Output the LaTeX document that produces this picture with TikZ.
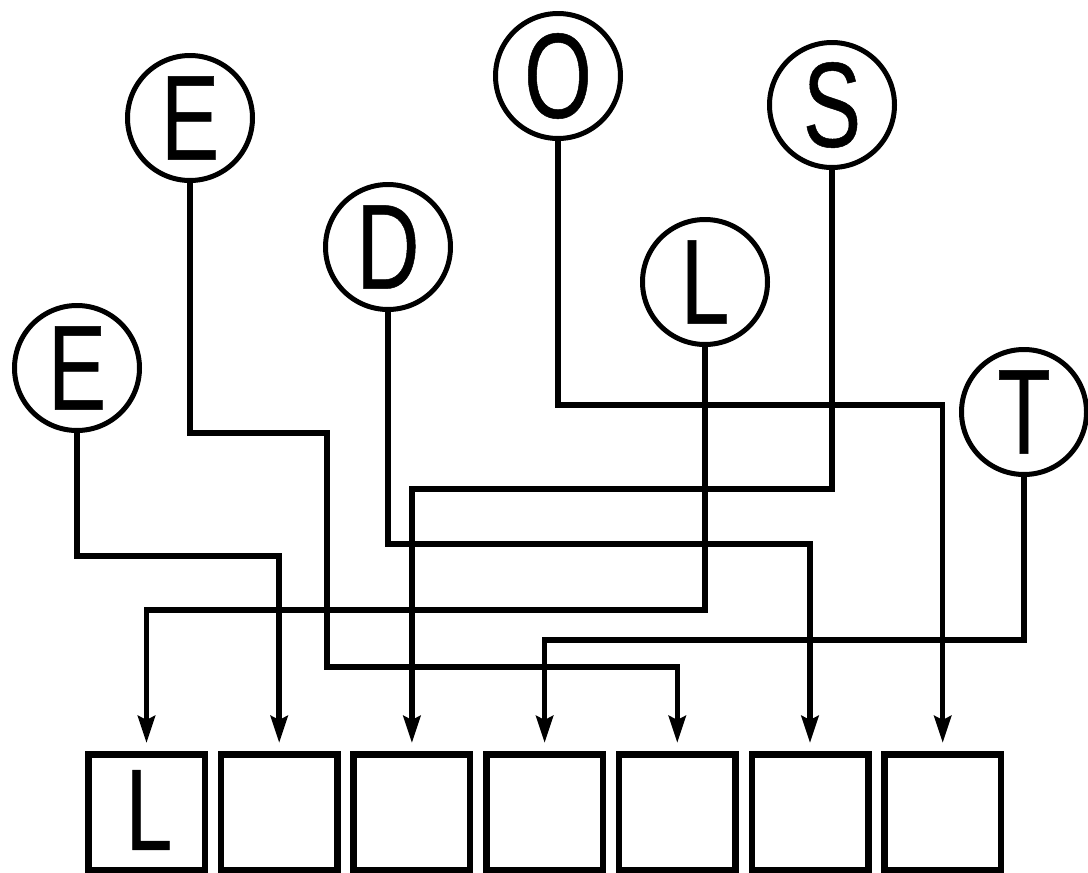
\documentclass[tikz,border=0pt]{standalone}
\usepackage{fontspec}
\newfontfamily\letterfont[FakeStretch=0.72,FakeBold=0.4]{Liberation Sans}
\usetikzlibrary{arrows.meta}
\begin{document}
\begin{tikzpicture}[x=1pt,y=-1pt,
  lettercirc/.style={circle,draw,line width=5pt,minimum size=125pt,inner sep=0pt,outer sep=0pt,
    font=\letterfont\fontsize{121}{121}\selectfont},
  slot/.style={rectangle,draw,line width=6.5pt,minimum width=116.5pt,minimum height=115.5pt,
    inner sep=0pt,outer sep=0pt,font=\letterfont\fontsize{116}{116}\selectfont},
  link/.style={line width=5.5pt,-{Stealth[length=27pt,width=17pt,inset=4pt]},shorten >=11.25pt}]
\useasboundingbox (0,0) rectangle (1088,873);
% letter circles
\node[lettercirc] (e1) at (77,368) {E};
\node[lettercirc] (e2) at (190,118) {E};
\node[lettercirc] (d)  at (388,247) {D};
\node[lettercirc] (o)  at (558,76)  {O};
\node[lettercirc] (l)  at (705,282) {L};
\node[lettercirc] (s)  at (832,105) {S};
\node[lettercirc] (t)  at (1024,412) {T};
% answer slots
\node[slot] (b1) at (146.5,812) {};
\node[slot] (b2) at (279.2,812) {};
\node[slot] (b3) at (411.9,812) {};
\node[slot] (b4) at (544.6,812) {};
\node[slot] (b5) at (677.3,812) {};
\node[slot] (b6) at (810,812) {};
\node[slot] (b7) at (942.7,812) {};
\node[font=\letterfont\fontsize{116}{116}\selectfont,inner sep=0pt] (bl) at (149,810) {L};
% turning points
\coordinate (t1) at (279.2,556);
\coordinate (t2a) at (327,433);
\coordinate (t2b) at (677.3,667);
\coordinate (t3) at (810,544);
\coordinate (t4) at (942.7,405);
\coordinate (t5) at (146.5,610);
\coordinate (t6) at (411.9,489);
\coordinate (t7) at (544.6,640);
% connectors
\draw[link] (e1.south) |- (t1) -- (b2.north);
\draw[link] (e2.south) |- (t2a) |- (t2b) -- (b5.north);
\draw[link] (d.south) |- (t3) -- (b6.north);
\draw[link] (o.south) |- (t4) -- (b7.north);
\draw[link] (l.south) |- (t5) -- (b1.north);
\draw[link] (s.south) |- (t6) -- (b3.north);
\draw[link] (t.south) |- (t7) -- (b4.north);
\end{tikzpicture}
\end{document}
